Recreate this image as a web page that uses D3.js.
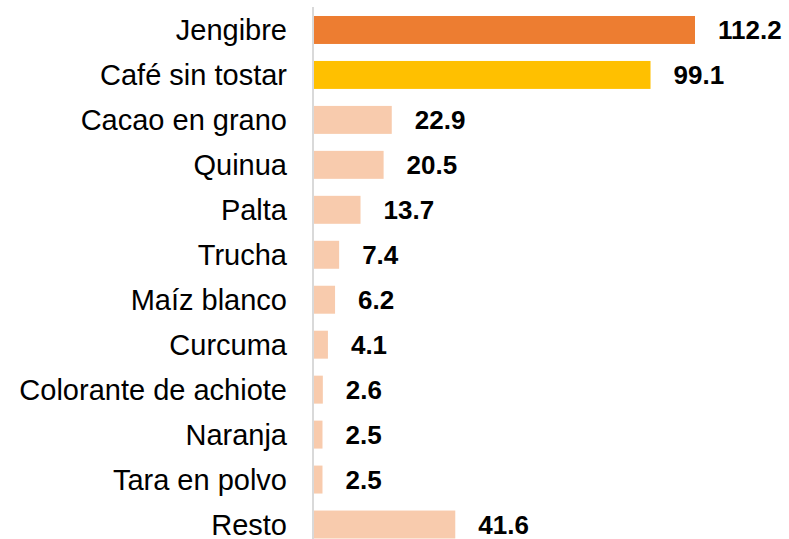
<!DOCTYPE html>
<html>
<head>
<meta charset="utf-8">
<script src="https://cdn.jsdelivr.net/npm/d3@7"></script>
<style>
  body { margin: 0; background: #fff; }
  svg { display: block; font-family: Arial, "Liberation Sans", sans-serif; }
</style>
</head>
<body>
<svg width="789" height="539"></svg>
<script>
// data
const products = ['Jengibre', 'Café sin tostar', 'Cacao en grano', 'Quinua', 'Palta', 'Trucha',
  'Maíz blanco', 'Curcuma', 'Colorante de achiote', 'Naranja', 'Tara en polvo', 'Resto']
const values = [112.2, 99.1, 22.9, 20.5, 13.7, 7.4, 6.2, 4.1, 2.6, 2.5, 2.5, 41.6]
const barColors = ['#ED7D31', '#FFC000', '#F8CBAD', '#F8CBAD', '#F8CBAD', '#F8CBAD',
  '#F8CBAD', '#F8CBAD', '#F8CBAD', '#F8CBAD', '#F8CBAD', '#F8CBAD']

const rows = products.map((p, i) => ({ name: p, value: values[i], color: barColors[i] }))

const svg = d3.select('svg')

const xScale = d3.scaleLinear()
  .domain([0, 112.2])
  .range([314, 695])

const yScale = d3.scaleBand()
  .domain(products)
  .range([7.5, 547])
  .paddingInner(0.378)
  .paddingOuter(0.189)

// bars
svg.selectAll('rect.bar')
  .data(rows)
  .enter()
  .append('rect')
  .attr('class', 'bar')
  .attr('x', xScale(0))
  .attr('y', d => yScale(d.name))
  .attr('width', d => xScale(d.value) - xScale(0))
  .attr('height', yScale.bandwidth())
  .attr('fill', d => d.color)

// vertical axis line
svg.append('line')
  .attr('x1', 313).attr('x2', 313)
  .attr('y1', 7).attr('y2', 539)
  .attr('stroke', '#d9d9d9')
  .attr('stroke-width', 2)

// category labels
svg.selectAll('text.cat')
  .data(rows)
  .enter()
  .append('text')
  .attr('class', 'cat')
  .attr('x', 287)
  .attr('y', d => yScale(d.name) + yScale.bandwidth() / 2)
  .attr('dy', '0.35em')
  .attr('text-anchor', 'end')
  .attr('font-size', 29)
  .attr('fill', '#000')
  .text(d => d.name)

// value labels
svg.selectAll('text.val')
  .data(rows)
  .enter()
  .append('text')
  .attr('class', 'val')
  .attr('x', d => xScale(d.value) + 23)
  .attr('y', d => yScale(d.name) + yScale.bandwidth() / 2)
  .attr('dy', '0.35em')
  .attr('font-size', 26)
  .attr('font-weight', 'bold')
  .attr('fill', '#000')
  .text(d => d.value.toFixed(1))
</script>
</body>
</html>
